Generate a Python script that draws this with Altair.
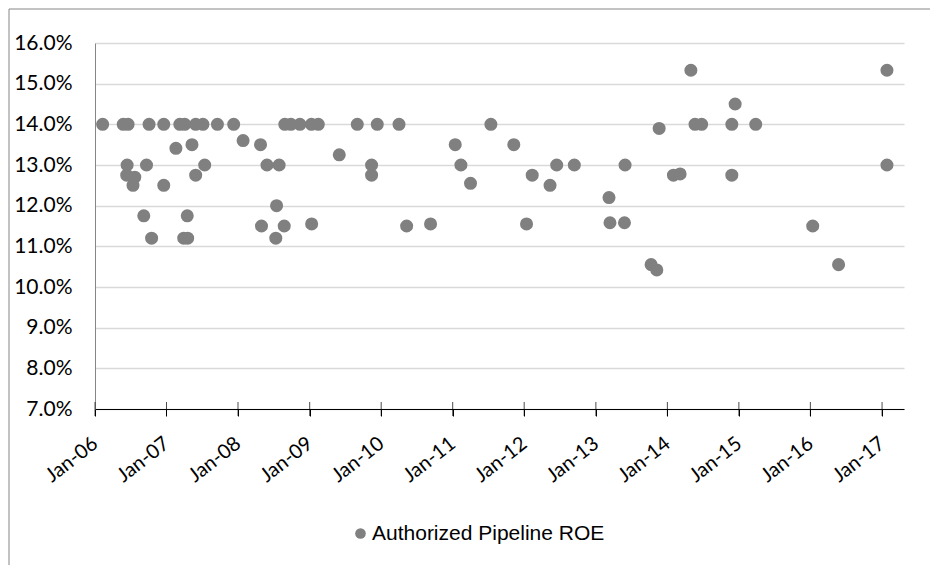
import altair as alt
import pandas as pd

# Authorized pipeline ROE decisions (percent) by order date
DATES = [
    "2006-02-09", "2006-05-25", "2006-06-12", "2006-06-14", "2006-06-19",
    "2006-07-14", "2006-07-23", "2006-09-07", "2006-09-21", "2006-10-04",
    "2006-10-17", "2006-12-18", "2006-12-18", "2007-02-18", "2007-03-10",
    "2007-03-30", "2007-04-04", "2007-04-17", "2007-04-19", "2007-05-11",
    "2007-05-30", "2007-05-30", "2007-07-06", "2007-07-15", "2007-09-18",
    "2007-12-10", "2008-01-27", "2008-04-25", "2008-04-30", "2008-05-28",
    "2008-07-12", "2008-07-16", "2008-07-29", "2008-08-24", "2008-08-27",
    "2008-09-27", "2008-11-12", "2009-01-10", "2009-01-11", "2009-02-14",
    "2009-06-01", "2009-09-01", "2009-11-13", "2009-11-13", "2009-12-12",
    "2010-04-02", "2010-05-11", "2010-09-10", "2011-01-14", "2011-02-12",
    "2011-04-02", "2011-07-15", "2011-11-09", "2012-01-13", "2012-02-11",
    "2012-05-12", "2012-06-15", "2012-09-13", "2013-03-09", "2013-03-14",
    "2013-05-27", "2013-05-30", "2013-10-10", "2013-11-08", "2013-11-20",
    "2014-02-01", "2014-03-07", "2014-05-01", "2014-05-22", "2014-06-25",
    "2014-11-26", "2014-11-26", "2014-12-13", "2015-03-28", "2016-01-13",
    "2016-05-24", "2017-01-26", "2017-01-26",
]
ROE = [
    14.0, 14.0, 12.75, 13.0, 14.0,
    12.5, 12.7, 11.75, 13.0, 14.0,
    11.2, 14.0, 12.5, 13.41, 14.0,
    11.2, 14.0, 11.75, 11.2, 13.5,
    14.0, 12.75, 14.0, 13.0, 14.0,
    14.0, 13.6, 13.5, 11.5, 13.0,
    11.2, 12.0, 13.0, 11.5, 14.0,
    14.0, 14.0, 14.0, 11.55, 14.0,
    13.25, 14.0, 13.0, 12.75, 14.0,
    14.0, 11.5, 11.55, 13.5, 13.0,
    12.55, 14.0, 13.5, 11.55, 12.75,
    12.5, 13.0, 13.0, 12.2, 11.58,
    11.58, 13.0, 10.55, 10.42, 13.9,
    12.75, 12.78, 15.33, 14.0, 14.0,
    14.0, 12.75, 14.5, 14.0, 11.5,
    10.55, 15.33, 13.0,
]
SERIES = "Authorized Pipeline ROE"
YEARS = list(range(2006, 2018))
Y_TICKS = [7, 8, 9, 10, 11, 12, 13, 14, 15, 16]

W, H = 809, 366
DOT = "#808080"

points = pd.DataFrame({"date": DATES, "roe": ROE, "series": SERIES})
year_ticks = pd.DataFrame({"date": [f"{y}-01-01" for y in YEARS]})

x_scale = alt.Scale(
    type="utc",
    domain=[alt.DateTime(year=2006, month=1, date=1, utc=True),
            alt.DateTime(year=2017, month=4, date=23, utc=True)],
)
y_scale = alt.Scale(domain=[7, 16], nice=False, zero=False)

x_axis = alt.Axis(
    values=[alt.DateTime(year=y, month=1, date=1, utc=True) for y in YEARS],
    labelExpr="utcFormat(datum.value, '%b-%y')",
    labelAngle=-38, labelAlign="right", labelBaseline="middle",
    labelFont="Lato", labelFontSize=20, labelColor="#000000",
    labelPadding=25, labelOverlap=False, labelFlush=False,
    tickSize=7, tickColor="#000000", domainColor="#000000", domainWidth=1,
    grid=False, title=None,
)
y_axis = alt.Axis(
    values=Y_TICKS,
    labelExpr="format(datum.value, '.1f') + '%'",
    labelFont="Lato", labelFontSize=21, labelColor="#000000",
    labelPadding=23, ticks=False,
    domainColor="#868686", domainWidth=1,
    gridColor="#d9d9d9", gridWidth=1.5,
    title=None,
)

scatter = alt.Chart(points).mark_circle(size=170, opacity=1).encode(
    x=alt.X("date:T", scale=x_scale, axis=x_axis),
    y=alt.Y("roe:Q", scale=y_scale, axis=y_axis),
    color=alt.Color(
        "series:N",
        scale=alt.Scale(range=[DOT]),
        legend=alt.Legend(
            orient="none", legendX=255, legendY=480, title=None,
            symbolType="circle", symbolSize=113, symbolOpacity=1,
            symbolStrokeWidth=0, labelOffset=1, labelLimit=0,
            labelFont="Liberation Sans", labelFontSize=21, labelColor="#000000",
        ),
    ),
)

# year ticks crossing the date axis
cross_ticks = alt.Chart(year_ticks).mark_tick(
    color="#000000", size=14, thickness=1, orient="vertical"
).encode(
    x=alt.X("date:T", scale=x_scale),
    y=alt.value(H),
)

# outer chart frame (left and top edges)
frame = pd.DataFrame({"edge": ["left"]})
frame_left = alt.Chart(frame).mark_rule(color="#868686", strokeWidth=1).encode(
    x=alt.value(-86), y=alt.value(-34), y2=alt.value(H + 160)
)
frame_top = alt.Chart(frame).mark_rule(color="#868686", strokeWidth=1).encode(
    x=alt.value(-86), x2=alt.value(W + 40), y=alt.value(-34)
)

chart = alt.layer(scatter, cross_ticks, frame_left, frame_top).properties(
    width=W,
    height=H,
    autosize=alt.AutoSizeParams(type="none"),
    padding={"left": 95, "top": 43, "right": 26, "bottom": 156},
    background="#ffffff",
).configure_view(stroke=None)

chart.save("out.html", embed_options={"renderer": "svg", "actions": False})
